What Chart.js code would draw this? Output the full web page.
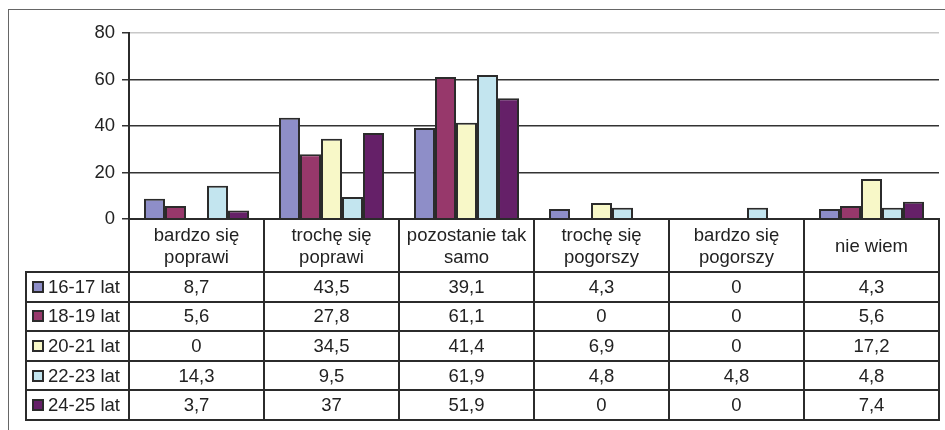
<!DOCTYPE html>
<html><head><meta charset="utf-8">
<script src="https://cdn.jsdelivr.net/npm/chart.js@4"></script>
<style>
html,body{margin:0;padding:0;background:#fff;}
#wrap{position:relative;width:945px;height:430px;overflow:hidden;font-family:"Liberation Sans",Arial,sans-serif;color:#222;}
#frame{position:absolute;left:8px;top:9px;width:960px;height:440px;border:1px solid #666;}
canvas{position:absolute;left:0;top:0;}
.cell{position:absolute;box-sizing:border-box;border:2px solid #2b2b2b;display:flex;align-items:center;justify-content:center;text-align:center;font-size:18.5px;line-height:22px;white-space:nowrap;}
.leg{justify-content:flex-start;padding-left:5px;}
.mk{display:inline-block;width:12px;height:12px;box-sizing:border-box;border:2px solid #2b2b2b;margin-right:4px;}
</style></head><body>
<div id="wrap"><div id="frame"></div><canvas id="c" width="945" height="430"></canvas><div id="tbl"></div></div>
<script>
const categories = [["bardzo się","poprawi"],["trochę się","poprawi"],["pozostanie tak","samo"],["trochę się","pogorszy"],["bardzo się","pogorszy"],["nie wiem"]];
const seriesNames = ["16-17 lat","18-19 lat","20-21 lat","22-23 lat","24-25 lat"];
const s16_17 = [8.7, 43.5, 39.1, 4.3, 0, 4.3];
const s18_19 = [5.6, 27.8, 61.1, 0, 0, 5.6];
const s20_21 = [0, 34.5, 41.4, 6.9, 0, 17.2];
const s22_23 = [14.3, 9.5, 61.9, 4.8, 4.8, 4.8];
const s24_25 = [3.7, 37, 51.9, 0, 0, 7.4];
const seriesValues = [s16_17, s18_19, s20_21, s22_23, s24_25];
const colors = ['#8e8ec8','#97386b','#f8f8c8','#c3e5ef','#652068'];
const yTicks = [0, 20, 40, 60, 80];

const chart = new Chart(document.getElementById('c'), {
  type: 'bar',
  data: {
    labels: categories.map(c => c.join(' ')),
    datasets: seriesNames.map((n, i) => ({
      label: n, data: seriesValues[i], backgroundColor: colors[i],
      borderColor: '#2b2b2b', borderWidth: 2, borderSkipped: 'bottom',
      categoryPercentage: 0.778, barPercentage: 1
    }))
  },
  options: {
    responsive: false, animation: false,
    layout: { padding: { left: 0, top: 33, right: 6, bottom: 211 } },
    plugins: { legend: { display: false }, tooltip: { enabled: false } },
    scales: {
      x: { display: false, grid: { display: false } },
      y: {
        min: 0, max: 80,
        afterBuildTicks: s => { s.ticks = yTicks.map(v => ({ value: v })); },
        afterFit: s => { s.width = 129; },
        ticks: { font: { family: '"Liberation Sans", Arial', size: 18.5 }, color: '#222', padding: 7 },
        grid: { color: c => (c.tick && c.tick.value === 80) ? '#c8c8c8' : '#333', lineWidth: 1.5, tickLength: 7, tickColor: '#333' },
        border: { color: '#2b2b2b', width: 2 }
      }
    }
  }
});

(function buildTable() {
  const a = chart.chartArea;
  const n = categories.length;
  const colW = (a.right - a.left) / n;
  const legendLeft = 26;
  const headerH = 53, rowH = 29.6;
  const tbl = document.getElementById('tbl');
  function cell(x, y, w, h, html, cls) {
    const d = document.createElement('div');
    d.className = 'cell' + (cls ? ' ' + cls : '');
    d.style.left = (x - 1) + 'px'; d.style.top = (y - 1) + 'px';
    d.style.width = (w + 2) + 'px'; d.style.height = (h + 2) + 'px';
    d.innerHTML = html;
    tbl.appendChild(d);
  }
  const fmt = v => String(v).replace('.', ',');
  categories.forEach((c, i) => cell(a.left + i * colW, a.bottom, colW, headerH, c.join('<br>')));
  seriesNames.forEach((name, r) => {
    const y = a.bottom + headerH + r * rowH;
    cell(legendLeft, y, a.left - legendLeft, rowH,
      '<span class="mk" style="background:' + colors[r] + '"></span>' + name, 'leg');
    seriesValues[r].forEach((v, i) => cell(a.left + i * colW, y, colW, rowH, fmt(v)));
  });
})();
</script>
</body></html>
